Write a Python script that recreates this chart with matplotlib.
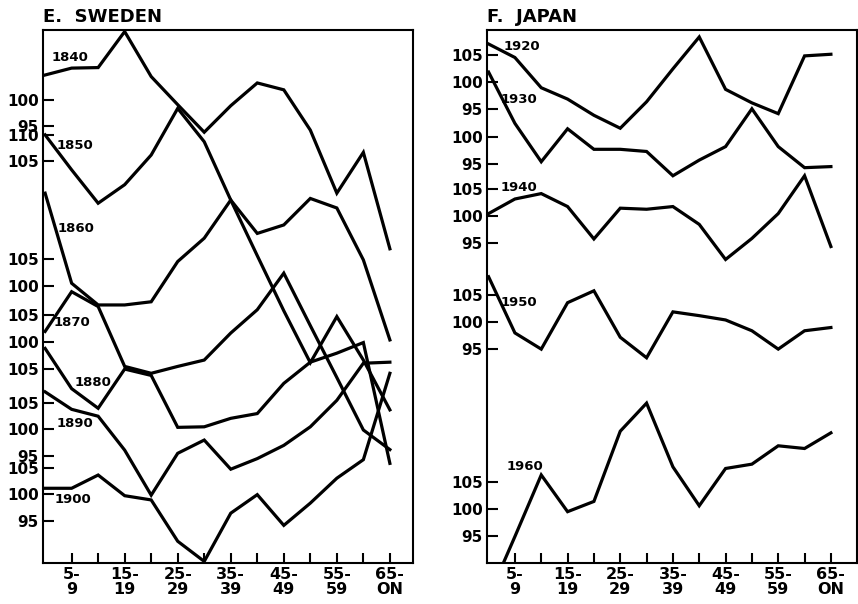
import matplotlib.pyplot as plt

# age groups 0-4 ... 65+ (index 0..13)
ages = ['0-4', '5-9', '10-14', '15-19', '20-24', '25-29', '30-34',
        '35-39', '40-44', '45-49', '50-54', '55-59', '60-64', '65+']
age_ticks = ['', '5-\n9', '', '15-\n19', '', '25-\n29', '', '35-\n39',
             '', '45-\n49', '', '55-\n59', '', '65-\nON']

# E. Sweden
sweden_1840 = [104.7, 106.0, 106.1, 112.9, 104.4, 99.1, 93.9, 98.9, 103.2, 101.9, 94.3, 82.4, 90.1, 71.9]
sweden_1850 = [110.0, 103.4, 97.1, 100.6, 106.2, 115.0, 108.7, 97.7, 87.2, 76.8, 67.0, 75.7, 67.5, 58.1]
sweden_1860 = [117.5, 100.5, 96.4, 96.4, 97.0, 104.6, 109.0, 116.2, 109.9, 111.5, 116.5, 114.7, 104.9, 89.8]
sweden_1870 = [101.9, 109.4, 106.6, 95.3, 94.0, 95.3, 96.5, 101.6, 106.0, 112.9, 103.0, 93.2, 83.3, 79.6]
sweden_1880 = [108.8, 101.2, 97.5, 104.9, 103.7, 93.9, 94.0, 95.6, 96.5, 102.2, 106.2, 107.9, 109.9, 87.1]
sweden_1890 = [107.1, 103.8, 102.5, 96.1, 87.6, 95.5, 98.0, 92.5, 94.5, 97.0, 100.5, 105.5, 112.5, 112.7]
sweden_1900 = [101.1, 101.1, 103.6, 99.7, 98.9, 91.1, 87.3, 96.4, 99.9, 94.1, 98.3, 103.0, 106.5, 122.8]

# F. Japan
japan_1920 = [107.1, 104.6, 99.0, 96.9, 93.9, 91.5, 96.4, 102.5, 108.4, 98.7, 96.2, 94.2, 104.9, 105.2]
japan_1930 = [112.0, 102.5, 95.4, 101.5, 97.7, 97.7, 97.3, 92.8, 95.7, 98.2, 105.2, 98.2, 94.3, 94.5]
japan_1940 = [100.4, 103.1, 104.1, 101.7, 95.7, 101.4, 101.2, 101.7, 98.4, 91.9, 95.8, 100.4, 107.4, 94.3]
japan_1950 = [108.4, 98.0, 95.0, 103.6, 105.8, 97.2, 93.4, 101.9, 101.2, 100.4, 98.4, 95.0, 98.4, 99.0]
japan_1960 = [83.7, 94.9, 106.3, 99.5, 101.4, 114.4, 119.6, 107.8, 100.6, 107.5, 108.3, 111.7, 111.2, 114.1]

sweden = [('1840', sweden_1840), ('1850', sweden_1850), ('1860', sweden_1860),
          ('1870', sweden_1870), ('1880', sweden_1880), ('1890', sweden_1890),
          ('1900', sweden_1900)]
japan = [('1920', japan_1920), ('1930', japan_1930), ('1940', japan_1940),
         ('1950', japan_1950), ('1960', japan_1960)]

# layout: height of each series' 100-line above the bottom axis, tick values, label spot
sweden_level = {'1840': 87.4, '1850': 70.8, '1860': 52.3, '1870': 41.8,
                '1880': 31.7, '1890': 25.2, '1900': 13.0}
sweden_ticks = {'1840': [100, 95], '1850': [110, 105], '1860': [105, 100],
                '1870': [105, 100], '1880': [105], '1890': [105, 100, 95],
                '1900': [105, 100, 95]}
sweden_lab = {'1840': (0.073, 0.948), '1850': (0.086, 0.783), '1860': (0.089, 0.627),
              '1870': (0.079, 0.452), '1880': (0.136, 0.338), '1890': (0.086, 0.261),
              '1900': (0.082, 0.120)}

japan_level = {'1920': 89.0, '1930': 78.9, '1940': 64.3, '1950': 44.6, '1960': 10.0}
japan_ticks = {'1920': [105, 100, 95], '1930': [100, 95], '1940': [105, 100, 95],
               '1950': [105, 100, 95], '1960': [105, 100, 95]}
japan_lab = {'1920': (0.094, 0.969), '1930': (0.087, 0.869), '1940': (0.087, 0.705),
             '1950': (0.085, 0.488), '1960': (0.103, 0.181)}

plt.rcParams['font.weight'] = 'bold'

fig = plt.figure(figsize=(8.58, 6.04), dpi=100)
ax1 = fig.add_axes([0.0501, 0.0679, 0.4312, 0.8825])
ax2 = fig.add_axes([0.5676, 0.0679, 0.4312, 0.8825])


def panel(ax, series, level, ticks, labpos, title, ytop, xlim):
    x = list(range(len(ages)))
    tpos, tlab = [], []
    for name, vals in series:
        y = [level[name] + v - 100 for v in vals]
        ax.plot(x, y, color='black', lw=2.3, solid_joinstyle='miter')
        for t in ticks[name]:
            tpos.append(level[name] + t - 100)
            tlab.append(str(t))
        ax.text(labpos[name][0], labpos[name][1], name, transform=ax.transAxes,
                ha='center', va='center', fontsize=9.5)
    ax.set_ylim(0, ytop)
    ax.set_xlim(*xlim)
    ax.set_yticks(tpos, tlab)
    ax.set_xticks(x[1:], age_ticks[1:])
    ax.tick_params(axis='y', direction='in', length=8, width=1.5, pad=3, labelsize=11)
    ax.tick_params(axis='x', direction='in', length=7, width=1.5, pad=3, labelsize=11.5)
    for lab in ax.get_xticklabels():
        lab.set_linespacing(0.95)
    for s in ax.spines.values():
        s.set_linewidth(1.5)
    ax.text(0.0, 1.008, title, transform=ax.transAxes, ha='left', va='bottom',
            fontsize=13)


panel(ax1, sweden, sweden_level, sweden_ticks, sweden_lab, 'E.  SWEDEN', 100.6, (-0.08, 13.87))
panel(ax2, japan, japan_level, japan_ticks, japan_lab, 'F.  JAPAN', 98.7, (-0.06, 13.99))

fig.savefig('out.png', dpi=100)
